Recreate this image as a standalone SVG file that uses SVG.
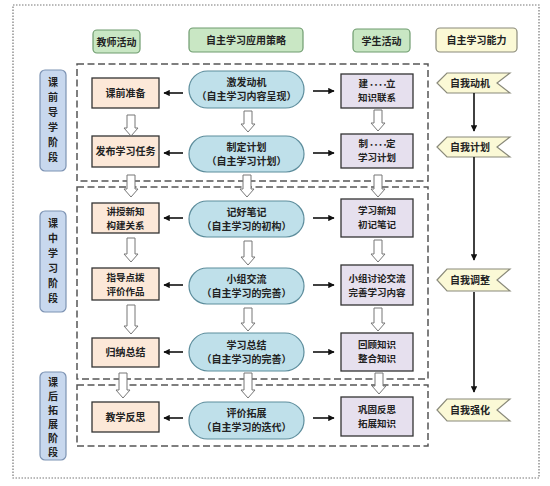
<svg xmlns="http://www.w3.org/2000/svg" width="550" height="486" viewBox="0 0 550 486">
<style>
text{font-family:"Noto Sans CJK SC","Noto Sans CJK TC",sans-serif;font-weight:700;font-size:10px;fill:#222;text-anchor:middle}
.hdr{fill:#c9e7c4;stroke:#6f9c6f;stroke-width:1.2}
.abl{fill:#fbf9d6;stroke:#8a8a7a;stroke-width:1.2}
.ph{fill:none;stroke:#555;stroke-width:1.5;stroke-dasharray:7 3.5}
.lab{fill:#c8d8ee;stroke:#7d93b3;stroke-width:1.2}
.tch{fill:#fce8d8;stroke:#333;stroke-width:1.3}
.mid{fill:#bfe0ea;stroke:#5d8d9c;stroke-width:1.2}
.stu{fill:#e6e0ee;stroke:#333;stroke-width:1.3}
.flag{fill:#fbf9d6;stroke:#8a8a7a;stroke-width:1.2}
.ha{fill:#fff;stroke:#777;stroke-width:1}
.ar{stroke:#111;stroke-width:1.6;fill:none;marker-end:url(#ah)}
.sm{font-size:9.5px}
</style>
<defs>
<marker id="ah" viewBox="0 0 10 10" refX="9" refY="5" markerWidth="4" markerHeight="4" orient="auto"><path d="M0,0 L10,5 L0,10 Z" fill="#111"/></marker>
</defs>
<rect x="13" y="5" width="526" height="473" fill="none" stroke="#777" stroke-width="1.2" stroke-dasharray="1.5 1.5"/>

<g id="headers">
<rect class="hdr" x="93" y="30" width="47" height="23" rx="4"/><text x="116.5" y="45.5" font-size="9.5">教师活动</text>
<rect class="hdr" x="189" y="28" width="114" height="24" rx="4"/><text x="246" y="44">自主学习应用策略</text>
<rect class="hdr" x="353" y="29" width="57" height="23" rx="4"/><text x="381.5" y="44.5" font-size="9.5">学生活动</text>
<rect class="abl" x="436" y="28" width="81" height="24" rx="4"/><text x="476.5" y="44">自主学习能力</text>
</g>

<g id="phases">
<rect class="ph" x="77" y="64" width="351" height="117"/>
<rect class="ph" x="77" y="187" width="351" height="192"/>
<rect class="ph" x="77" y="385" width="351" height="61"/>
</g>

<g id="phase-labels">
<rect class="lab" x="40" y="70" width="26" height="101" rx="5"/>
<text x="53" y="86">课</text><text x="53" y="101">前</text><text x="53" y="116">导</text><text x="53" y="131">学</text><text x="53" y="146">阶</text><text x="53" y="161">段</text>
<rect class="lab" x="40" y="211" width="26" height="101" rx="5"/>
<text x="53" y="227">课</text><text x="53" y="242">中</text><text x="53" y="257">学</text><text x="53" y="272">习</text><text x="53" y="287">阶</text><text x="53" y="302">段</text>
<rect class="lab" x="40" y="372" width="26" height="88" rx="5"/>
<text x="53" y="386">课</text><text x="53" y="400">后</text><text x="53" y="414">拓</text><text x="53" y="428">展</text><text x="53" y="442">阶</text><text x="53" y="456">段</text>
</g>

<g id="teacher">
<g id="t1"><rect class="tch" x="92" y="78" width="67" height="30"/><text x="125.5" y="96.5">课前准备</text></g>
<g id="t2"><rect class="tch" x="92" y="136" width="67" height="31"/><text x="125.5" y="155">发布学习任务</text></g>
<g id="t3"><rect class="tch" x="92" y="203" width="67" height="30"/><text class="sm" x="125.5" y="214.5">讲授新知</text><text class="sm" x="125.5" y="228.5">构建关系</text></g>
<g id="t4"><rect class="tch" x="92" y="268" width="67" height="32"/><text class="sm" x="125.5" y="280.5">指导点拨</text><text class="sm" x="125.5" y="294.5">评价作品</text></g>
<g id="t5"><rect class="tch" x="92" y="338" width="67" height="29"/><text x="125.5" y="356">归纳总结</text></g>
<g id="t6"><rect class="tch" x="92" y="402" width="67" height="30"/><text x="125.5" y="420.5">教学反思</text></g>
</g>

<g id="strategy">
<g id="m1"><rect class="mid" x="189" y="71" width="115" height="37" rx="18.5"/><text x="246.5" y="85.5">激发动机</text><text x="246.5" y="100">（自主学习内容呈现）</text></g>
<g id="m2"><rect class="mid" x="189" y="136" width="115" height="36" rx="18"/><text x="246.5" y="150.5">制定计划</text><text x="246.5" y="165">（自主学习计划）</text></g>
<g id="m3"><rect class="mid" x="189" y="201" width="115" height="36" rx="18"/><text x="246.5" y="215.5">记好笔记</text><text x="246.5" y="230">（自主学习的初构）</text></g>
<g id="m4"><rect class="mid" x="189" y="268" width="115" height="36" rx="18"/><text x="246.5" y="282.5">小组交流</text><text x="246.5" y="297">（自主学习的完善）</text></g>
<g id="m5"><rect class="mid" x="189" y="333" width="115" height="38" rx="19"/><text x="246.5" y="348.5">学习总结</text><text x="246.5" y="363">（自主学习的完善）</text></g>
<g id="m6"><rect class="mid" x="189" y="402" width="115" height="37" rx="18.5"/><text x="246.5" y="416.5">评价拓展</text><text x="246.5" y="431">（自主学习的迭代）</text></g>
</g>

<g id="student">
<g id="s1"><rect class="stu" x="341" y="74" width="72" height="34"/><text class="sm" x="377" y="87">建<tspan font-size="7" letter-spacing="-2.5">····</tspan>立</text><text class="sm" x="377" y="101">知识联系</text></g>
<g id="s2"><rect class="stu" x="341" y="134" width="72" height="34"/><text class="sm" x="377" y="147">制<tspan font-size="7" letter-spacing="-2.5">····</tspan>定</text><text class="sm" x="377" y="161">学习计划</text></g>
<g id="s3"><rect class="stu" x="341" y="199" width="72" height="38"/><text class="sm" x="377" y="214">学习新知</text><text class="sm" x="377" y="228">初记笔记</text></g>
<g id="s4"><rect class="stu" x="341" y="265" width="72" height="40"/><text class="sm" x="377" y="281.5">小组讨论交流</text><text class="sm" x="377" y="296">完善学习内容</text></g>
<g id="s5"><rect class="stu" x="341" y="333" width="72" height="38"/><text class="sm" x="377" y="348">回顾知识</text><text class="sm" x="377" y="362">整合知识</text></g>
<g id="s6"><rect class="stu" x="341" y="397" width="72" height="39"/><text class="sm" x="377" y="412.5">巩固反思</text><text class="sm" x="377" y="426.5">拓展知识</text></g>
</g>

<g id="ability">
<g id="a1"><path class="flag" d="M437,83 L447,73 H510 L497,83 L510,93 H447 Z"/><text x="470" y="87">自我动机</text></g>
<g id="a2"><path class="flag" d="M437,147 L447,137 H510 L497,147 L510,157 H447 Z"/><text x="470" y="151">自我计划</text></g>
<g id="a3"><path class="flag" d="M437,280 L447,269 H510 L497,280 L510,291 H447 Z"/><text x="470" y="284">自我调整</text></g>
<g id="a4"><path class="flag" d="M437,410 L447,399 H510 L497,410 L510,421 H447 Z"/><text x="470" y="414">自我强化</text></g>
</g>

<g id="connectors">
<line class="ar" x1="183" y1="93" x2="164" y2="93"/>
<line class="ar" x1="183" y1="153" x2="164" y2="153"/>
<line class="ar" x1="183" y1="218" x2="164" y2="218"/>
<line class="ar" x1="183" y1="285" x2="164" y2="285"/>
<line class="ar" x1="183" y1="352" x2="164" y2="352"/>
<line class="ar" x1="183" y1="418" x2="164" y2="418"/>
<line class="ar" x1="313" y1="91" x2="334" y2="91"/>
<line class="ar" x1="313" y1="153" x2="334" y2="153"/>
<line class="ar" x1="313" y1="218" x2="334" y2="218"/>
<line class="ar" x1="313" y1="285" x2="334" y2="285"/>
<line class="ar" x1="313" y1="352" x2="334" y2="352"/>
<line class="ar" x1="313" y1="418" x2="334" y2="418"/>
<line class="ar" x1="474" y1="93" x2="474" y2="131"/>
<line class="ar" x1="474" y1="157" x2="474" y2="260"/>
<line class="ar" x1="474" y1="292" x2="474" y2="392"/>
<path class="ha" d="M127,115 H135 V128 H138 L131,136 L124,128 H127 Z"/>
<path class="ha" d="M127,175 H135 V189 H138 L131,197 L124,189 H127 Z"/>
<path class="ha" d="M127,238 H135 V254 H138 L131,262 L124,254 H127 Z"/>
<path class="ha" d="M127,305 H135 V326 H138 L131,334 L124,326 H127 Z"/>
<path class="ha" d="M119,373 H127 V390 H130 L123,398 L116,390 H119 Z"/>
<path class="ha" d="M244,111 H252 V124 H255 L248,132 L241,124 H244 Z"/>
<path class="ha" d="M243,175 H251 V189 H254 L247,197 L240,189 H243 Z"/>
<path class="ha" d="M244,241 H252 V257 H255 L248,265 L241,257 H244 Z"/>
<path class="ha" d="M244,308 H252 V323 H255 L248,331 L241,323 H244 Z"/>
<path class="ha" d="M244,373 H252 V390 H255 L248,398 L241,390 H244 Z"/>
<path class="ha" d="M374,110 H382 V123 H385 L378,131 L371,123 H374 Z"/>
<path class="ha" d="M374,175 H382 V189 H385 L378,197 L371,189 H374 Z"/>
<path class="ha" d="M374,240 H382 V254 H385 L378,262 L371,254 H374 Z"/>
<path class="ha" d="M374,308 H382 V323 H385 L378,331 L371,323 H374 Z"/>
<path class="ha" d="M375,373 H383 V386 H386 L379,394 L372,386 H375 Z"/>
</g>
</svg>
